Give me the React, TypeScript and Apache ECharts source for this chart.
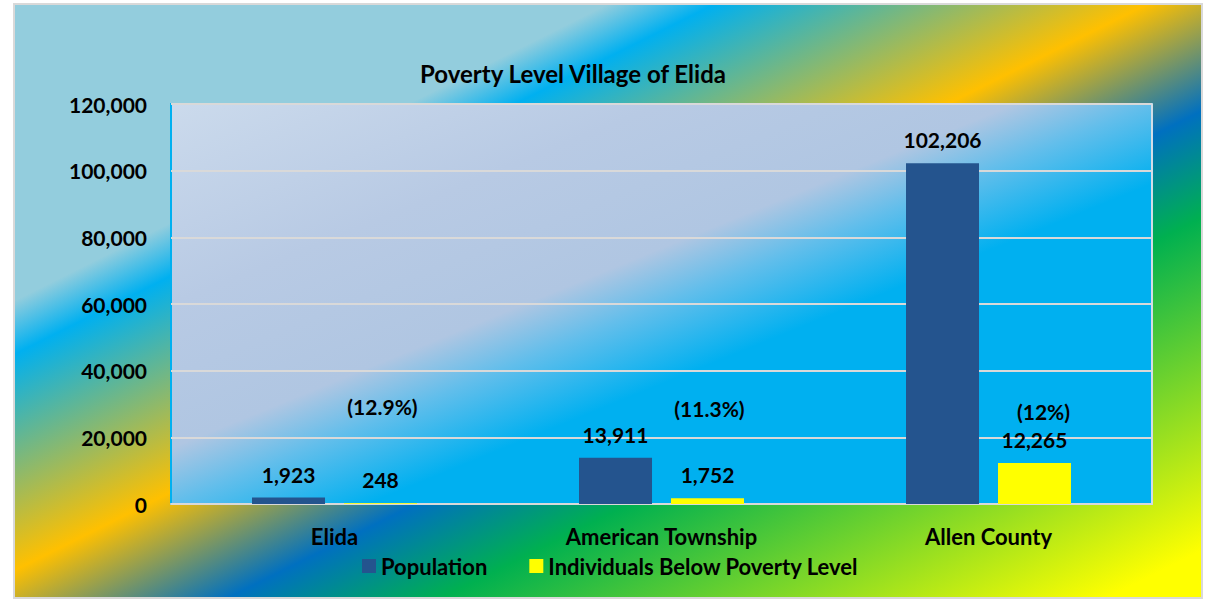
import React, { useEffect, useRef } from "react";
import * as echarts from "echarts";

const categories = ["Elida", "American Township", "Allen County"];
const population = [1923, 13911, 102206];
const belowPoverty = [248, 1752, 12265];
const percentLabels = ["(12.9%)", "(11.3%)", "(12%)"];
const percentLabelValues = [29400, 28800, 27900];
const yTicks = { min: 0, max: 120000, interval: 20000 };

const FONT = "Lato, 'Open Sans', sans-serif";

// gradient whose isolines run from corner to corner of the box (like a bounding-box gradient)
function diagGradient(x: number, y: number, w: number, h: number, stops: [number, string][]) {
  const len = Math.sqrt(w * w + h * h);
  const dx = h / len;
  const dy = w / len;
  const proj = w * dx + h * dy;
  return new echarts.graphic.LinearGradient(
    x, y, x + proj * dx, y + proj * dy,
    stops.map(([offset, color]) => ({ offset, color })),
    true
  );
}

const fmt = (v: number) => v.toLocaleString("en-US");

export default function App() {
  const ref = useRef<HTMLDivElement>(null);
  useEffect(() => {
    if (!ref.current) return;
    const chart = echarts.init(ref.current, undefined, { renderer: "svg" });
    const gx = 171, gy = 104, gw = 981, gh = 400;
    const numStyle = { fontFamily: FONT, fontSize: 21, fontWeight: "bold" as const, color: "#000" };
    const textStyle = { fontFamily: FONT, fontSize: 22, fontWeight: "bold" as const, color: "#000" };
    chart.setOption({
      animation: false,
      graphic: [
        {
          type: "rect",
          z: -100,
          silent: true,
          shape: { x: 14, y: 4, width: 1188, height: 594 },
          style: {
            fill: diagGradient(14, 4, 1188, 594, [
              [0, "#93CDDD"],
              [0.25, "#93CDDD"],
              [0.295, "#00B0F0"],
              [0.477, "#FFC000"],
              [0.59, "#0070C0"],
              [0.68, "#00B050"],
              [0.96, "#FFFF00"],
              [1, "#FFFF00"],
            ]),
            stroke: "#D9D9D9",
            lineWidth: 2,
          },
        },
      ],
      title: {
        text: "Poverty Level Village of Elida",
        left: 420,
        top: 61,
        padding: 0,
        textStyle: { fontFamily: FONT, fontSize: 24, fontWeight: "bold", color: "#000" },
      },
      legend: {
        data: ["Population", "Individuals Below Poverty Level"],
        left: 362,
        top: 555,
        padding: 0,
        itemWidth: 14,
        itemHeight: 14,
        itemGap: 42,
        icon: "rect",
        textStyle,
      },
      grid: {
        show: true,
        left: gx,
        top: gy,
        width: gw,
        height: gh,
        containLabel: false,
        borderColor: "#00B0F0",
        borderWidth: 2,
        backgroundColor: diagGradient(gx, gy, gw, gh, [
          [0, "#CBDAEC"],
          [0.25, "#B8CAE4"],
          [0.43, "#B0C6E2"],
          [0.5, "#62BEEB"],
          [0.6, "#00B0F0"],
          [1, "#00B0F0"],
        ]),
      },
      xAxis: {
        type: "category",
        data: categories,
        axisTick: { show: false },
        axisLine: { show: true, lineStyle: { color: "#D9D9D9", width: 2 } },
        axisLabel: { ...textStyle, margin: 21 },
      },
      yAxis: [
        {
          type: "value",
          min: yTicks.min,
          max: yTicks.max,
          interval: yTicks.interval,
          axisLine: { show: false },
          axisTick: { show: false },
          axisLabel: { ...numStyle, margin: 24, formatter: (v: number) => fmt(v) },
          splitLine: { show: true, lineStyle: { color: "#D9D9D9", width: 2 } },
        },
        {
          type: "value",
          position: "right",
          min: 0,
          max: 1,
          axisLine: { show: true, lineStyle: { color: "#D3DCE6", width: 2 } },
          axisTick: { show: false },
          axisLabel: { show: false },
          splitLine: { show: false },
        },
      ],
      series: [
        {
          name: "Population",
          type: "bar",
          data: population,
          barWidth: 73,
          barGap: "26%",
          itemStyle: { color: "#24548E" },
          label: { show: true, position: "top", distance: 13, ...numStyle, formatter: (p: any) => fmt(p.value) },
        },
        {
          name: "Individuals Below Poverty Level",
          type: "bar",
          data: belowPoverty,
          barWidth: 73,
          barGap: "26%",
          itemStyle: { color: "#FFFF00" },
          label: { show: true, position: "top", distance: 13, ...numStyle, formatter: (p: any) => fmt(p.value) },
          markPoint: {
            symbol: "circle",
            symbolSize: 1,
            silent: true,
            itemStyle: { color: "rgba(0,0,0,0)" },
            label: { show: true, position: "inside", formatter: "{b}", ...numStyle },
            data: percentLabels.map((txt, i) => ({
              name: txt,
              coord: [categories[i], percentLabelValues[i]],
              label: { offset: [i === 2 ? 9 : 2, 0] },
            })),
          },
        },
      ],
    });
    return () => chart.dispose();
  }, []);
  return (
    <div
      ref={ref}
      style={{ position: "absolute", left: 0, top: 0, width: 1209, height: 600, background: "#fff" }}
    />
  );
}
